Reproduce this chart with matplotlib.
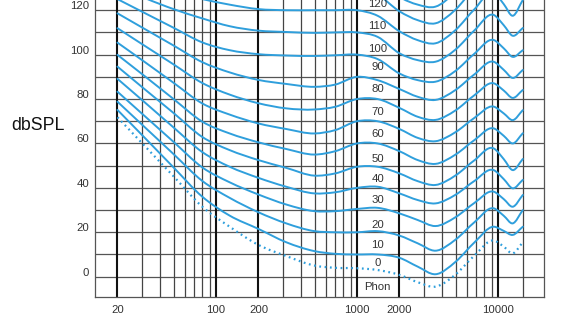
import numpy as np
import matplotlib.pyplot as plt
from matplotlib import transforms
from matplotlib.path import Path
from matplotlib.patches import PathPatch

plt.rcParams['font.family'] = ['Liberation Sans', 'DejaVu Sans']

freq = [20, 31.5, 50, 80, 125, 200, 315, 500, 700, 1000,
        1400, 2000, 2700, 3600, 5000, 6800, 9300, 11000, 12700, 15000]

# SPL in dB along each equal-loudness contour, at the frequencies above
spl_0 = [71.8, 58.6, 45.2, 31.5, 22.5, 14.3, 9.3, 5.0, 4.0, 3.8,
         3.0, 0.8, -2.5, -4.5, 1.0, 9.5, 16.3, 13.5, 10.5, 15.5]
spl_10 = [75.1, 62.3, 49.2, 36.0, 27.5, 21.5, 15.5, 11.5, 10.3, 10.0,
          10.0, 8.5, 4.5, 1.1, 6.7, 15.4, 22.5, 20.6, 18.8, 22.5]
spl_20 = [78.8, 67.1, 55.2, 43.1, 35.5, 29.0, 24.0, 20.5, 20.0, 20.0,
          20.5, 18.5, 15.0, 11.7, 16.7, 24.5, 30.8, 27.4, 24.0, 30.0]
spl_30 = [83.3, 72.1, 60.7, 49.2, 42.5, 37.0, 32.5, 29.5, 29.5, 30.5,
          31.0, 28.5, 25.5, 22.8, 26.8, 33.2, 38.3, 34.9, 31.5, 36.8]
spl_40 = [89.1, 78.3, 67.2, 56.1, 49.5, 44.5, 40.5, 37.5, 38.0, 40.0,
          40.5, 37.5, 34.5, 33.0, 36.9, 43.1, 48.0, 43.9, 39.8, 43.6]
spl_50 = [94.6, 84.2, 73.7, 62.9, 57.0, 52.5, 49.0, 45.5, 46.5, 49.5,
          49.5, 46.5, 43.0, 41.3, 45.6, 52.4, 57.8, 52.9, 48.0, 53.0]
spl_60 = [99.9, 90.1, 80.0, 69.8, 64.5, 60.5, 57.5, 55.0, 56.5, 60.0,
          60.0, 56.5, 52.5, 50.8, 55.0, 61.5, 66.8, 63.4, 60.0, 64.6]
spl_70 = [105.4, 96.5, 87.3, 78.0, 73.0, 69.0, 66.5, 64.5, 66.0, 70.0,
          70.0, 66.5, 62.5, 61.0, 65.1, 71.5, 76.6, 73.5, 70.5, 75.0]
spl_80 = [111.9, 103.8, 95.6, 87.2, 82.0, 78.1, 75.8, 75.3, 76.5, 80.0,
          80.0, 76.0, 72.0, 70.6, 74.9, 81.7, 87.1, 83.8, 80.5, 84.1]
spl_90 = [118.6, 111.4, 104.1, 96.6, 92.0, 88.6, 86.8, 85.5, 86.5, 90.0,
          88.5, 84.5, 81.0, 79.6, 84.1, 91.1, 96.8, 93.1, 89.5, 93.1]
spl_100 = [125.0, 118.6, 112.1, 105.5, 102.0, 100.2, 99.6, 99.4, 99.7, 100.0,
           98.0, 91.5, 88.5, 87.8, 92.7, 100.4, 106.6, 102.8, 99.0, 102.0]
spl_110 = [131.0, 125.4, 120.5, 116.3, 112.8, 110.8, 110.2, 109.8, 110.0, 110.0,
           108.0, 100.6, 97.5, 96.8, 102.3, 110.9, 117.9, 113.2, 108.5, 112.0]
spl_120 = [137.0, 132.0, 128.0, 125.0, 122.5, 120.5, 120.0, 120.0, 120.0, 120.0,
           117.5, 110.5, 106.5, 105.1, 111.1, 120.4, 128.0, 122.7, 117.5, 124.6]
spl_130 = [142.0, 138.0, 135.0, 132.5, 131.0, 130.0, 130.0, 130.0, 130.0, 130.0,
           127.0, 119.5, 115.5, 114.1, 120.3, 130.1, 138.0, 132.5, 127.0, 134.0]
spl_140 = [147.0, 144.0, 142.0, 140.5, 140.0, 140.0, 140.0, 140.0, 140.0, 140.0,
           134.0, 126.0, 122.5, 121.6, 128.5, 139.3, 148.0, 142.0, 137.0, 144.0]

contours = [spl_10, spl_20, spl_30, spl_40, spl_50, spl_60, spl_70,
            spl_80, spl_90, spl_100, spl_110, spl_120, spl_130, spl_140]

phon_labels = ['120', '110', '100', '90', '80', '70', '60', '50', '40', '30', '20', '10', '0', 'Phon']
phon_label_y = [122.8, 112.9, 102.6, 94.6, 84.4, 74.3, 64.2, 53, 44, 34.5, 23.4, 14.4, 6.3, -4.8]

bold_freqs = [20, 100, 200, 1000, 2000, 10000]
thin_freqs = [30, 40, 50, 60, 70, 80, 90, 300, 400, 500, 600, 700, 800, 900,
              3000, 4000, 5000, 6000, 7000, 8000, 9000, 15000]
db_ticks = [0, 20, 40, 60, 80, 100, 120]

blue = '#2f9fdc'


def contour_path(fx, db):
    # cubic Hermite segments in log-frequency so the contour is drawn smooth
    u = np.log10(fx)
    v = np.asarray(db, dtype=float)
    slope = np.gradient(v, u)
    verts = [(u[0], v[0])]
    codes = [Path.MOVETO]
    for i in range(len(u) - 1):
        h = (u[i + 1] - u[i]) / 3
        verts += [(u[i] + h, v[i] + h * slope[i]),
                  (u[i + 1] - h, v[i + 1] - h * slope[i + 1]),
                  (u[i + 1], v[i + 1])]
        codes += [Path.CURVE4] * 3
    verts = np.array(verts)
    verts[:, 0] = 10 ** verts[:, 0]
    return Path(verts, codes)


fig = plt.figure(figsize=(5.70, 3.27), dpi=100)
ax = fig.add_axes([94.7 / 570, 30 / 327, 449.3 / 570, 297 / 327])
ax.set_xscale('log')
ax.set_xlim(13.79, 21200)
ax.set_ylim(-9.15, 124.6)

for y in range(-10, 131, 10):
    ax.axhline(y, color='#555555', lw=0.9, zorder=1)
for f in thin_freqs:
    ax.axvline(f, color='#444444', lw=0.9, zorder=1)
for f in bold_freqs:
    ax.axvline(f, color='#111111', lw=1.5, zorder=1)

for spl in contours:
    ax.add_patch(PathPatch(contour_path(freq, spl), fill=False, edgecolor=blue,
                           lw=1.4, zorder=3, capstyle='round'))
ax.add_patch(PathPatch(contour_path(freq, spl_0), fill=False, edgecolor=blue,
                       lw=1.6, ls=(0, (0.8, 1.6)), zorder=3))

for txt, y in zip(phon_labels, phon_label_y):
    ax.text(1400, y, txt, ha='center', va='center', fontsize=8.2, color='#333333', zorder=4)

ax.set_xticks(bold_freqs)
ax.set_xticklabels([str(f) for f in bold_freqs])
ax.xaxis.set_minor_locator(plt.NullLocator())
ax.set_yticks(db_ticks)
ax.set_yticklabels([str(v) for v in db_ticks])
ax.tick_params(length=0, labelsize=8.2, labelcolor='#333333')
ax.tick_params(axis='x', pad=6)
ax.tick_params(axis='y', pad=4)
shift = transforms.ScaledTranslation(0, 5 / 100, fig.dpi_scale_trans)
for lab in ax.get_yticklabels():
    lab.set_transform(lab.get_transform() + shift)

for side in ['left', 'right', 'bottom']:
    ax.spines[side].set_color('#555555')
    ax.spines[side].set_linewidth(0.9)
ax.spines['top'].set_visible(False)

fig.text(11 / 570, 1 - 126 / 327, 'dbSPL', ha='left', va='center', fontsize=12.8, color='#111111')

fig.savefig('out.png', dpi=100)
